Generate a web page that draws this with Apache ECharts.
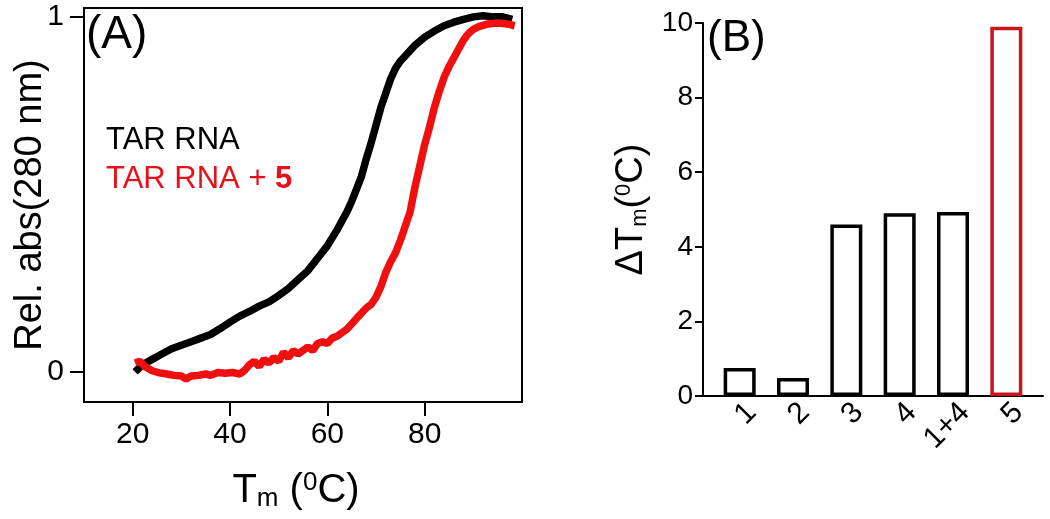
<!DOCTYPE html>
<html>
<head>
<meta charset="utf-8">
<script src="https://cdn.jsdelivr.net/npm/echarts@6/dist/echarts.min.js"></script>
<style>html,body{margin:0;padding:0;background:#fff;}#c{width:1050px;height:519px;}</style>
</head>
<body>
<div id="c"></div>
<script>
// ---- Panel A: melting curves ----
const blackT   = [20.5,22,24,26,28,30,32,34,36,38,40,42,44,46,48,50,52,54,56,58,60,62,63,64,65,66,67,68,69,70,71,72,73,74,75,76,78,80,82,84,86,88,90,92,94,96,98];
const blackAbs = [0.0,0.02,0.035,0.05,0.065,0.075,0.085,0.095,0.105,0.122,0.14,0.157,0.17,0.185,0.197,0.215,0.235,0.26,0.285,0.32,0.355,0.40,0.425,0.45,0.48,0.515,0.55,0.60,0.645,0.695,0.745,0.785,0.825,0.855,0.875,0.89,0.92,0.943,0.96,0.975,0.985,0.993,1.0,1.003,1.0,1.0,0.993];
const redT   = [20.5,21.5,22.5,24,25.5,27,28.5,30,31,32,33.5,35,36,37.5,39,40.5,42,43,44,45,46,47,48,49,50,51,52,53,54,55,56,57,58,59,60,61,62,63,64,65,66,67,68,69,70,71,72,73,74,75,76,77,78,79,80,81,82,83,84,85,86,87,88,89,90,91,93,95,97,98.5];
const redAbs = [0.025,0.03,0.015,0.003,-0.003,-0.006,-0.01,-0.012,-0.02,-0.012,-0.01,-0.006,-0.01,-0.002,-0.004,-0.002,-0.006,0.004,0.02,0.03,0.015,0.035,0.025,0.04,0.03,0.055,0.04,0.06,0.05,0.06,0.07,0.06,0.08,0.085,0.08,0.095,0.1,0.11,0.12,0.135,0.15,0.165,0.18,0.19,0.21,0.24,0.28,0.31,0.335,0.37,0.41,0.45,0.52,0.58,0.64,0.69,0.745,0.79,0.83,0.86,0.885,0.91,0.935,0.953,0.965,0.972,0.98,0.983,0.98,0.975];
const seriesNames = ['TAR RNA', 'TAR RNA + 5'];
const xTicksA = [20, 40, 60, 80];
const yTicksA = [0, 1];

// ---- Panel B: delta Tm bars ----
const compounds = ['1', '2', '3', '4', '1+4', '5'];
const deltaTm   = [0.75, 0.48, 4.6, 4.9, 4.93, 9.9];
const yTicksB   = [0, 2, 4, 6, 8, 10];

const FONT = "'Liberation Sans', Arial, sans-serif";
const RED = '#f00f0f';
const TEXTRED = '#e8101a';
const BARRED = '#c8161c';

const pairs = (xs, ys) => xs.map((x, i) => [x, ys[i]]);

const chart = echarts.init(document.getElementById('c'), null, {renderer: 'canvas'});
chart.setOption({
  animation: false,
  backgroundColor: '#fff',
  textStyle: {fontFamily: FONT, color: '#000'},
  title: [
    {text: '(A)', left: 86, top: 12, padding: 0, textStyle: {fontFamily: FONT, fontSize: 46, fontWeight: 'normal', color: '#000'}},
    {text: '(B)', left: 707, top: 17, padding: 0, textStyle: {fontFamily: FONT, fontSize: 44, fontWeight: 'normal', color: '#000'}}
  ],
  legend: {
    orient: 'vertical', left: 101, top: 125, padding: 0, icon: 'none', itemWidth: 0, itemGap: 8,
    selectedMode: false,
    textStyle: {fontFamily: FONT, fontSize: 31, rich: {b: {fontFamily: FONT, fontSize: 31, fontWeight: 'bold', color: TEXTRED}}},
    formatter: n => n === seriesNames[1] ? 'TAR RNA + {b|5}' : n,
    data: [{name: seriesNames[0], textStyle: {color: '#000'}}, {name: seriesNames[1], textStyle: {color: TEXTRED}}]
  },
  grid: [
    {left: 84, top: 8, width: 438, height: 394, show: true, borderColor: '#000', borderWidth: 2, backgroundColor: 'transparent'},
    {left: 703, top: 23, width: 340, height: 373},
    {left: 713, top: 23, width: 320, height: 373}
  ],
  xAxis: [
    {gridIndex: 0, type: 'value', min: 10, max: 100, splitLine: {show: false},
     axisLine: {show: true, onZero: false, lineStyle: {color: '#000', width: 2}},
     axisTick: {show: true, length: 14, customValues: xTicksA, lineStyle: {color: '#000', width: 2}},
     axisLabel: {customValues: xTicksA, fontSize: 30, fontFamily: FONT, color: '#000', margin: 18},
     name: 'T{sub|m} ({sup|0}C)', nameLocation: 'middle', nameGap: 68,
     nameTextStyle: {fontFamily: FONT, fontSize: 40, color: '#000', padding: [0, 14, 0, 0],
       rich: {sub: {fontFamily: FONT, fontSize: 26, verticalAlign: 'bottom', padding: [16, 0, 0, 0]},
              sup: {fontFamily: FONT, fontSize: 26, verticalAlign: 'top', padding: [0, 0, 10, 0]}}}},
    {gridIndex: 1, type: 'value', min: 0, max: 1, splitLine: {show: false},
     axisLine: {show: true, onZero: false, lineStyle: {color: '#000', width: 2}},
     axisTick: {show: false}, axisLabel: {show: false}},
    {gridIndex: 2, type: 'category', data: compounds,
     axisLine: {show: false}, axisTick: {show: false},
     axisLabel: {interval: 0, hideOverlap: false, rotate: 45, fontSize: 30, fontFamily: FONT, color: '#000', margin: 24, padding: [0, -17, 0, 0]}}
  ],
  yAxis: [
    {gridIndex: 0, type: 'value', min: -0.085, max: 1.025, splitLine: {show: false},
     axisLine: {show: true, onZero: false, lineStyle: {color: '#000', width: 2}},
     axisTick: {show: true, length: 14, customValues: yTicksA, lineStyle: {color: '#000', width: 2}},
     axisLabel: {customValues: yTicksA, fontSize: 30, fontFamily: FONT, color: '#000', margin: 20},
     name: 'Rel. abs(280 nm)', nameLocation: 'middle', nameGap: 34, nameMoveOverlap: false,
     nameTextStyle: {fontFamily: FONT, fontSize: 38, color: '#000'}},
    {gridIndex: 1, type: 'value', min: 0, max: 10, interval: 2, splitLine: {show: false},
     axisLine: {show: true, lineStyle: {color: '#000', width: 2}},
     axisTick: {show: true, length: 8, customValues: yTicksB, lineStyle: {color: '#000', width: 2}},
     axisLabel: {customValues: yTicksB, fontSize: 28, fontFamily: FONT, color: '#000', margin: 10},
     name: 'ΔT{sub|m}({sup|0}C)', nameLocation: 'middle', nameGap: 52,
     nameTextStyle: {fontFamily: FONT, fontSize: 38, color: '#000',
       rich: {sub: {fontFamily: FONT, fontSize: 22, verticalAlign: 'bottom', padding: [14, 0, 0, 0]},
              sup: {fontFamily: FONT, fontSize: 22, verticalAlign: 'top', padding: [0, 0, 10, 0]}}}},
    {gridIndex: 2, type: 'value', min: 0, max: 10, show: false}
  ],
  series: [
    {name: seriesNames[0], type: 'line', xAxisIndex: 0, yAxisIndex: 0, showSymbol: false, smooth: false,
     lineStyle: {color: '#000', width: 7.5}, itemStyle: {color: '#000'}, data: pairs(blackT, blackAbs)},
    {name: seriesNames[1], type: 'line', xAxisIndex: 0, yAxisIndex: 0, showSymbol: false, smooth: false,
     lineStyle: {color: RED, width: 7.5}, itemStyle: {color: RED}, data: pairs(redT, redAbs)},
    {name: 'ΔTm', type: 'bar', xAxisIndex: 2, yAxisIndex: 2, barWidth: 32,
     itemStyle: {color: 'rgba(255,255,255,0)', borderColor: '#000', borderWidth: 3.5},
     data: deltaTm.map((v, i) => compounds[i] === '5' ? {value: v, itemStyle: {borderColor: BARRED}} : v)}
  ]
});
</script>
</body>
</html>
